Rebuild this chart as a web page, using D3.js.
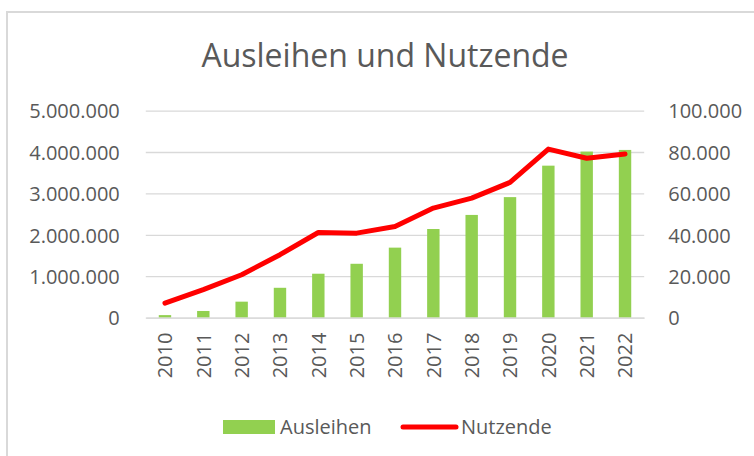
<!DOCTYPE html>
<html>
<head>
<meta charset="utf-8">
<script src="https://cdn.jsdelivr.net/npm/d3@7"></script>
<style>
  body { margin: 0; background: #fff; }
  text { font-family: 'Open Sans', sans-serif; fill: #595959; }
</style>
</head>
<body>
<div class="chart"></div>
<script>
const years = ['2010', '2011', '2012', '2013', '2014', '2015', '2016', '2017', '2018', '2019', '2020', '2021', '2022'];
const ausleihen = [60000, 160000, 385000, 720000, 1060000, 1300000, 1690000, 2140000, 2480000, 2910000, 3670000, 4010000, 4050000];
const nutzende = [7000, 13500, 20700, 30400, 41100, 40800, 44000, 52900, 57700, 65300, 81400, 77000, 79000];
const leftTicks = [0, 1000000, 2000000, 3000000, 4000000, 5000000];
const rightTicks = [0, 20000, 40000, 60000, 80000, 100000];

const w = 754;
const h = 456;
const plotLeft = 145.8, plotRight = 644.2, plotTop = 110.6, plotBottom = 317.6;

const de = d3.formatLocale({ decimal: ',', thousands: '.', grouping: [3], currency: ['', ' €'] });
const fmt = de.format(',d');

const svg = d3.select('.chart')
    .append('svg')
    .attr('width', w)
    .attr('height', h);

// chart border
svg.append('rect')
    .attr('x', 7).attr('y', 12)
    .attr('width', 780).attr('height', 480)
    .attr('fill', 'none')
    .attr('stroke', '#d9d9d9')
    .attr('stroke-width', 2);

svg.append('text')
    .attr('x', 385).attr('y', 66.5)
    .attr('text-anchor', 'middle')
    .style('font-size', '32px')
    .text('Ausleihen und Nutzende');

const x = d3.scaleBand().domain(years).range([plotLeft, plotRight]);
const yL = d3.scaleLinear().domain([0, 5000000]).range([plotBottom, plotTop]);
const yR = d3.scaleLinear().domain([0, 100000]).range([plotBottom, plotTop]);

// gridlines
svg.append('g')
    .attr('transform', 'translate(' + plotLeft + ',0)')
    .call(d3.axisLeft(yL).tickValues(leftTicks).tickSize(-(plotRight - plotLeft)).tickFormat(''))
    .call(g => g.select('.domain').remove())
    .call(g => g.selectAll('line').attr('stroke', '#d9d9d9').attr('stroke-width', 1.3));

// left axis labels
svg.append('g')
    .attr('transform', 'translate(' + plotLeft + ',0)')
    .call(d3.axisLeft(yL).tickValues(leftTicks).tickSize(0).tickPadding(26).tickFormat(fmt))
    .call(g => g.select('.domain').remove())
    .call(g => g.selectAll('text').style('font-size', '20px').attr('fill', '#595959').attr('dy', '0.36em'));

// right axis labels
svg.append('g')
    .attr('transform', 'translate(' + plotRight + ',0)')
    .call(d3.axisRight(yR).tickValues(rightTicks).tickSize(0).tickPadding(24).tickFormat(fmt))
    .call(g => g.select('.domain').remove())
    .call(g => g.selectAll('text').style('font-size', '20px').attr('fill', '#595959').attr('dy', '0.36em'));

// bars
const bw = 12.4;
svg.selectAll('rect.bar')
    .data(years)
    .enter()
    .append('rect')
    .attr('class', 'bar')
    .attr('x', (d) => x(d) + x.bandwidth() / 2 - bw / 2)
    .attr('y', (d, i) => yL(ausleihen[i]))
    .attr('width', bw)
    .attr('height', (d, i) => yL(0) - yL(ausleihen[i]))
    .attr('fill', '#92d050');

// x axis
svg.append('g')
    .attr('transform', 'translate(0,' + plotBottom + ')')
    .call(d3.axisBottom(x).tickSize(0).tickPadding(0))
    .call(g => g.select('.domain').attr('stroke', '#d9d9d9').attr('stroke-width', 1.3))
    .call(g => g.selectAll('text')
        .style('font-size', '20px')
        .attr('fill', '#595959')
        .attr('text-anchor', 'end')
        .attr('transform', 'translate(0,15) rotate(-90)')
        .attr('x', 0).attr('y', 0)
        .attr('dy', '0.36em'));

// line
const line = d3.line()
    .x((d, i) => x(years[i]) + x.bandwidth() / 2)
    .y((d) => yR(d));

svg.append('path')
    .datum(nutzende)
    .attr('d', line)
    .attr('fill', 'none')
    .attr('stroke', '#ff0000')
    .attr('stroke-width', 5)
    .attr('stroke-linejoin', 'round')
    .attr('stroke-linecap', 'round');

// legend
const legend = svg.append('g');
legend.append('rect')
    .attr('x', 223).attr('y', 420)
    .attr('width', 52).attr('height', 14)
    .attr('fill', '#92d050');
legend.append('text')
    .attr('x', 280).attr('y', 434)
    .style('font-size', '20px')
    .text('Ausleihen');
legend.append('line')
    .attr('x1', 403).attr('x2', 456)
    .attr('y1', 427).attr('y2', 427)
    .attr('stroke', '#ff0000')
    .attr('stroke-width', 5)
    .attr('stroke-linecap', 'round');
legend.append('text')
    .attr('x', 461).attr('y', 434)
    .style('font-size', '20px')
    .text('Nutzende');
</script>
</body>
</html>
